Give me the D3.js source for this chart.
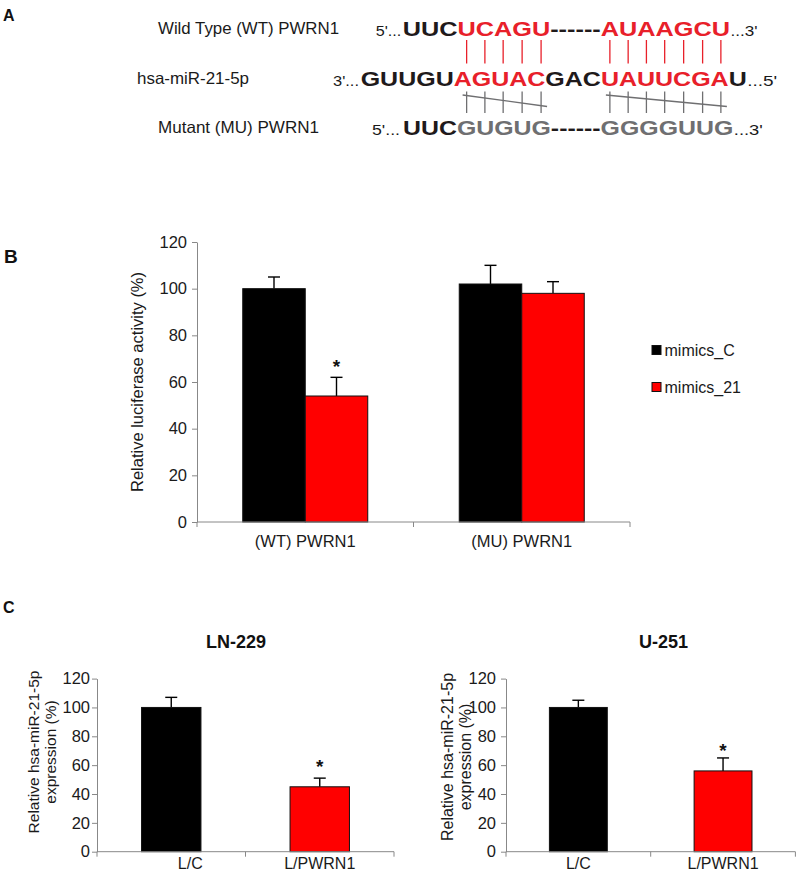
<!DOCTYPE html>
<html><head><meta charset="utf-8">
<script src="https://cdn.jsdelivr.net/npm/d3@7"></script>
<style>body{margin:0;background:#fff}</style>
</head><body><svg id="c" width="800" height="874"></svg>
<script>
// ---------------- DATA ----------------
const seqLabels = ["Wild Type (WT) PWRN1", "hsa-miR-21-5p", "Mutant (MU) PWRN1"];
const wtPrefix = "5'...", wtSuffix = "...3'";
const wtSegments = [["UUC","k"],["UCAGU","r"],["------","k"],["AUAAGCU","r"]];
const mirPrefix = "3'...", mirSuffix = "...5'";
const mirSegments = [["GUUGU","k"],["AGUAC","r"],["GAC","k"],["UAUUCGA","r"],["U","k"]];
const muPrefix = "5'...", muSuffix = "...3'";
const muSegments = [["UUC","k"],["GUGUG","g"],["------","k"],["GGGGUUG","g"]];
const pairedGroups = [[3,4,5,6,7],[14,15,16,17,18,19,20]];

const lucGroups = ["(WT) PWRN1", "(MU) PWRN1"];
const lucSeries = ["mimics_C", "mimics_21"];
const lucMeans  = [[100, 54], [102, 98]];
const lucErrors = [[5, 8], [8, 5]];
const lucSig    = [[false, true], [false, false]];
const yTicks = [0, 20, 40, 60, 80, 100, 120];

const cellLines  = ["LN-229", "U-251"];
const exprGroups = ["L/C", "L/PWRN1"];
const exprMeans  = [[100, 45], [100, 56]];
const exprErrors = [[7, 6], [5, 9]];
const exprSig    = [[false, true], [false, true]];

// ---------------- DRAW ----------------
const svg = d3.select("#c");
const FONT = "'Liberation Sans', Arial, Helvetica, sans-serif";
svg.attr("font-family", FONT);
const COL = {k: "#1f1a1b", r: "#e8202a", g: "#6f6f71"};
const AX = "#888888", TXT = "#1a1a1a";
const seriesFill = ["#000000", "#ff0000"];

// panel letters
[["A", 3, 21, 16], ["B", 4, 263, 19], ["C", 3, 613, 16]].forEach(([t, x, y, s]) => {
  svg.append("text").attr("x", x).attr("y", y).attr("font-size", s)
    .attr("font-weight", "bold").attr("fill", "#111").text(t);
});

// ----- Panel A -----
const tmp = svg.append("text").attr("font-size", 21).attr("font-weight", "bold")
  .attr("visibility", "hidden");
function natWidth(s) { if (!s.length) return 0; tmp.text(s); return tmp.node().getComputedTextLength(); }

const rowsA = [
  {label: seqLabels[0], lx: 158, lw: 181, ly: 34, prefix: wtPrefix, suffix: wtSuffix, segs: wtSegments,
   px: 375.7, pw: 25.5, sx: 402.7, sw: 327.3, fw: 27, y: 35.5},
  {label: seqLabels[1], lx: 137, lw: 112, ly: 84, prefix: mirPrefix, suffix: mirSuffix, segs: mirSegments,
   px: 333, pw: 26, sx: 360.7, sw: 386, fw: 30, y: 85.5},
  {label: seqLabels[2], lx: 158, lw: 161, ly: 133, prefix: muPrefix, suffix: muSuffix, segs: muSegments,
   px: 372, pw: 28, sx: 403, sw: 330.3, fw: 29, y: 134.5}
];

rowsA.forEach(r => {
  svg.append("text").attr("x", r.lx).attr("y", r.ly).attr("font-size", 16.5).attr("fill", TXT)
    .attr("textLength", r.lw).attr("lengthAdjust", "spacingAndGlyphs").text(r.label);
  svg.append("text").attr("x", r.px).attr("y", r.y).attr("font-size", 15).attr("fill", TXT)
    .attr("textLength", r.pw).attr("lengthAdjust", "spacingAndGlyphs").text(r.prefix);
  const t = svg.append("text").attr("x", r.sx).attr("y", r.y).attr("font-size", 21)
    .attr("font-weight", "bold").attr("textLength", r.sw).attr("lengthAdjust", "spacingAndGlyphs");
  r.segs.forEach(([s, c]) => t.append("tspan").attr("fill", COL[c]).text(s));
  svg.append("text").attr("x", r.sx + r.sw + 0.5).attr("y", r.y).attr("font-size", 15).attr("fill", TXT)
    .attr("textLength", r.fw).attr("lengthAdjust", "spacingAndGlyphs").text(r.suffix);
});

// char centres of WT row (computed before the measuring node is removed)
const wtFull = wtSegments.map(s => s[0]).join("");
const wtScale = rowsA[0].sw / natWidth(wtFull);
const charCenter = i => rowsA[0].sx + wtScale * (natWidth(wtFull.slice(0, i)) + natWidth(wtFull.slice(0, i + 1))) / 2;
const pairedX = pairedGroups.map(g => g.map(charCenter));
tmp.remove();

pairedX.forEach(xs => {
  xs.forEach(x => {
    svg.append("line").attr("x1", x).attr("x2", x).attr("y1", 40).attr("y2", 63.5)
      .attr("stroke", COL.r).attr("stroke-width", 1.3);
    svg.append("line").attr("x1", x).attr("x2", x).attr("y1", 91.5).attr("y2", 113)
      .attr("stroke", COL.g).attr("stroke-width", 1.3);
  });
  svg.append("line").attr("x1", xs[0] - 4).attr("y1", 95)
    .attr("x2", xs[xs.length - 1] + 6).attr("y2", 106.5)
    .attr("stroke", COL.g).attr("stroke-width", 1.3);
});

// ----- helpers -----
function styleAxis(g, fs) {
  g.selectAll(".domain").attr("stroke", AX);
  g.selectAll(".tick line").attr("stroke", AX);
  g.selectAll(".tick text").attr("fill", TXT).attr("font-size", fs).attr("font-family", FONT);
}
function errorBar(g, cx, yTop, yBar) {
  g.append("line").attr("x1", cx).attr("x2", cx).attr("y1", yBar).attr("y2", yTop)
    .attr("stroke", "#000").attr("stroke-width", 1.4);
  g.append("line").attr("x1", cx - 6).attr("x2", cx + 6).attr("y1", yTop).attr("y2", yTop)
    .attr("stroke", "#000").attr("stroke-width", 1.4);
}

// ----- Panel B -----
const B = {x0: 197, x1: 630, y0: 522, y1: 242};
const yB = d3.scaleLinear().domain([0, 120]).range([B.y0, B.y1]);
const xB = d3.scaleBand().domain(lucGroups).range([B.x0, B.x1]).paddingInner(0.4226).paddingOuter(0.2113);
const xSubB = d3.scaleBand().domain(lucSeries).range([0, xB.bandwidth()]);
const gB = svg.append("g");

lucGroups.forEach((grp, gi) => {
  lucSeries.forEach((s, si) => {
    const v = lucMeans[gi][si], e = lucErrors[gi][si];
    const x = xB(grp) + xSubB(s);
    const cx = x + xSubB.bandwidth() / 2;
    errorBar(gB, cx, yB(v + e), yB(v));
    gB.append("rect").attr("x", x).attr("y", yB(v)).attr("width", xSubB.bandwidth())
      .attr("height", B.y0 - yB(v)).attr("fill", seriesFill[si]).attr("stroke", "#111").attr("stroke-width", 1);
    if (lucSig[gi][si]) {
      gB.append("text").attr("x", cx).attr("y", yB(v + e) - 4).attr("text-anchor", "middle")
        .attr("font-size", 19).attr("font-weight", "bold").attr("fill", "#111").text("*");
    }
  });
});
const yAxB = gB.append("g").attr("transform", `translate(${B.x0},0)`)
  .call(d3.axisLeft(yB).tickValues(yTicks).tickSize(5).tickSizeOuter(0).tickPadding(5));
styleAxis(yAxB, 16.5);
gB.append("line").attr("x1", B.x0).attr("x2", B.x1).attr("y1", B.y0).attr("y2", B.y0).attr("stroke", AX);
d3.range(lucGroups.length + 1).forEach(i => {
  const x = B.x0 + i * xB.step();
  gB.append("line").attr("x1", x).attr("x2", x).attr("y1", B.y0).attr("y2", B.y0 + 5).attr("stroke", AX);
});
lucGroups.forEach(grp => {
  gB.append("text").attr("x", xB(grp) + xB.bandwidth() / 2).attr("y", 547).attr("text-anchor", "middle")
    .attr("font-size", 16.5).attr("fill", TXT).text(grp);
});
gB.append("text").attr("transform", "translate(143,382) rotate(-90)").attr("text-anchor", "middle")
  .attr("font-size", 16.5).attr("fill", TXT).text("Relative luciferase activity (%)");
// legend
lucSeries.forEach((s, i) => {
  const ly = 345.5 + i * 37;
  gB.append("rect").attr("x", 652).attr("y", ly).attr("width", 9).attr("height", 9)
    .attr("fill", seriesFill[i]).attr("stroke", "#111").attr("stroke-width", 1);
  gB.append("text").attr("x", 664.5).attr("y", ly + 10.5).attr("font-size", 16).attr("fill", TXT).text(s);
});

// ----- Panel C -----
const Ccfg = [
  {x0: 97, x1: 394, y0: 851.7, y1: 678.6, tx: 236, ty: 648, ylx1: 39, ylx2: 56, yly: 752, yfs: 15.5, pad: 2, gap: 5, ldx: [19, 0]},
  {x0: 506, x1: 795.4, y0: 851.7, y1: 678.6, tx: 663.5, ty: 648, ylx1: 453, ylx2: 471, yly: 757, yfs: 16, pad: 5, gap: 1, ldx: [0, 0]}
];
cellLines.forEach((cl, ci) => {
  const c = Ccfg[ci];
  const g = svg.append("g");
  const y = d3.scaleLinear().domain([0, 120]).range([c.y0, c.y1]);
  const x = d3.scaleBand().domain(exprGroups).range([c.x0, c.x1]).paddingInner(0.6).paddingOuter(0.3);
  exprGroups.forEach((grp, gi) => {
    const v = exprMeans[ci][gi], e = exprErrors[ci][gi];
    const cx = x(grp) + x.bandwidth() / 2;
    errorBar(g, cx, y(v + e), y(v));
    g.append("rect").attr("x", x(grp)).attr("y", y(v)).attr("width", x.bandwidth())
      .attr("height", c.y0 - y(v)).attr("fill", seriesFill[gi]).attr("stroke", "#111").attr("stroke-width", 1);
    if (exprSig[ci][gi]) {
      g.append("text").attr("x", cx).attr("y", y(v + e) - c.gap).attr("text-anchor", "middle")
        .attr("font-size", 19).attr("font-weight", "bold").attr("fill", "#111").text("*");
    }
    g.append("text").attr("x", cx + c.ldx[gi]).attr("y", 868.5).attr("text-anchor", "middle")
      .attr("font-size", 16).attr("fill", TXT).text(grp);
  });
  const ya = g.append("g").attr("transform", `translate(${c.x0},0)`)
    .call(d3.axisLeft(y).tickValues(yTicks).tickSize(5).tickSizeOuter(0).tickPadding(c.pad));
  styleAxis(ya, 16.5);
  g.append("line").attr("x1", c.x0).attr("x2", c.x1).attr("y1", c.y0).attr("y2", c.y0).attr("stroke", AX);
  d3.range(exprGroups.length + 1).forEach(i => {
    const xx = c.x0 + i * x.step();
    g.append("line").attr("x1", xx).attr("x2", xx).attr("y1", c.y0).attr("y2", c.y0 + 5).attr("stroke", AX);
  });
  g.append("text").attr("x", c.tx).attr("y", c.ty).attr("text-anchor", "middle")
    .attr("font-size", 18).attr("font-weight", "bold").attr("fill", "#111").text(cl);
  g.append("text").attr("transform", `translate(${c.ylx1},${c.yly}) rotate(-90)`).attr("text-anchor", "middle")
    .attr("font-size", c.yfs).attr("fill", TXT).text("Relative hsa-miR-21-5p");
  g.append("text").attr("transform", `translate(${c.ylx2},${c.yly}) rotate(-90)`).attr("text-anchor", "middle")
    .attr("font-size", c.yfs).attr("fill", TXT).text("expression (%)");
});
</script>
</body></html>
